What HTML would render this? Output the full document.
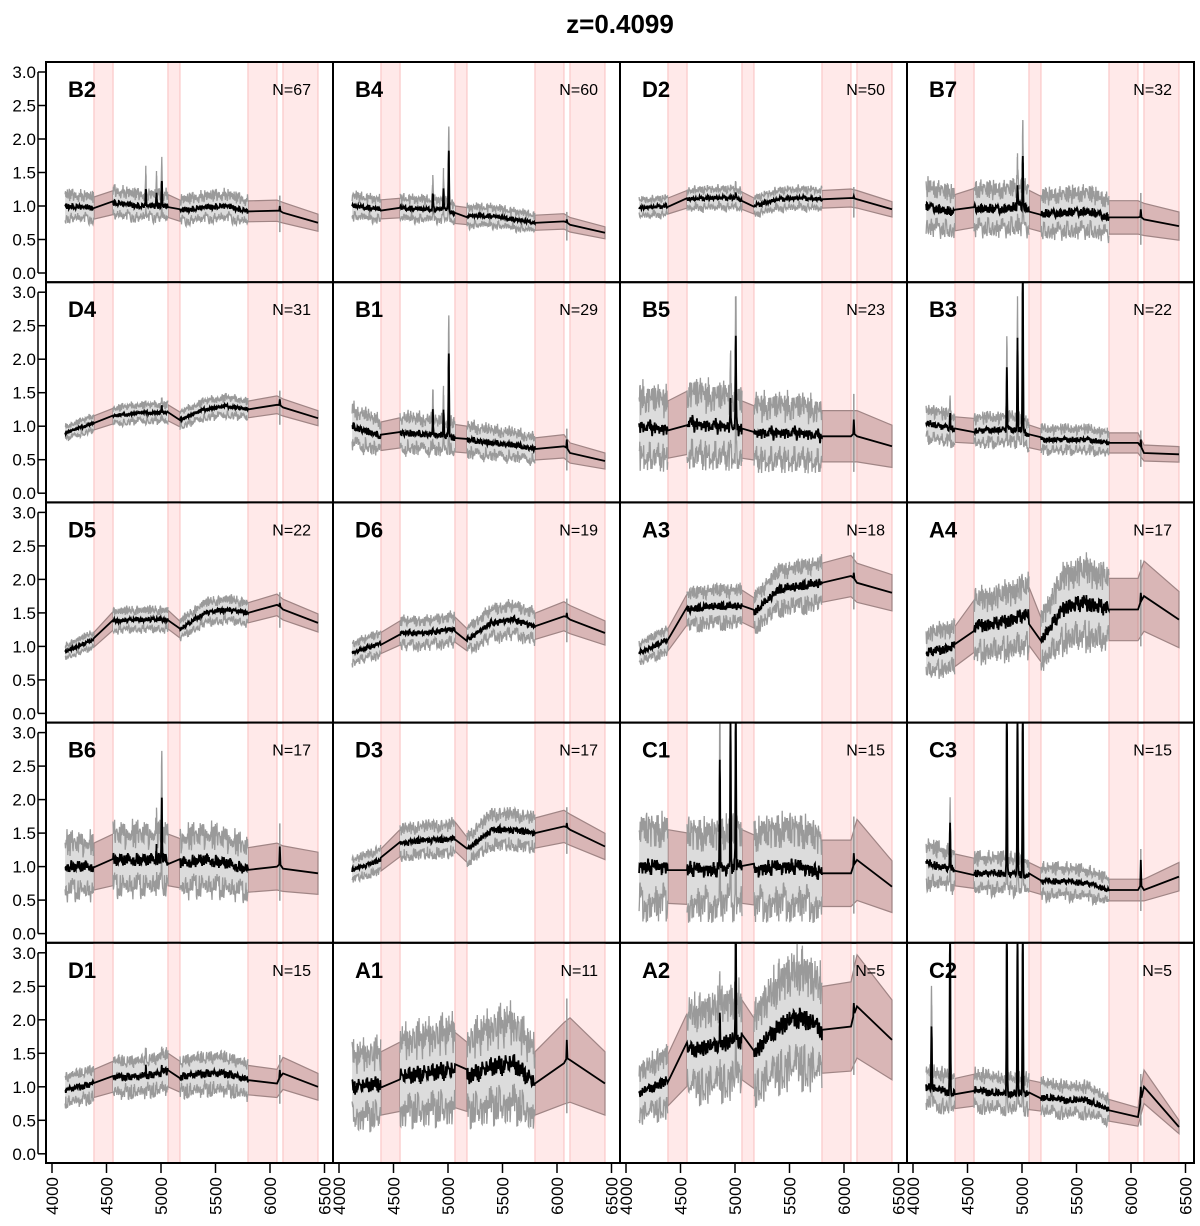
<!DOCTYPE html>
<html><head><meta charset="utf-8"><style>
body{margin:0;background:#fff;}
svg{display:block;font-family:"Liberation Sans",Arial,sans-serif;}
</style></head><body>
<svg id="chart" width="1200" height="1226" viewBox="0 0 1200 1226" xmlns="http://www.w3.org/2000/svg">
<text x="620" y="33" text-anchor="middle" font-size="26" font-weight="bold">z=0.4099</text>
<g id="panels"></g>
</svg>
<script>
const panelNames = ["B2","B4","D2","B7","D4","B1","B5","B3","D5","D6","A3","A4","B6","D3","C1","C3","D1","A1","A2","C2"];
const panelCounts = [67,60,50,32,31,29,23,22,22,19,18,17,17,17,15,15,15,11,5,5];
const knotWaves = [4120,4385,4560,4800,5000,5064,5174,5400,5600,5798,6064,6119,6440];
const meanB2=[1.0,0.97,1.05,1.0,1.0,1.0,0.93,0.98,1.0,0.92,0.93,0.9,0.75];
const meanB4=[1.0,0.95,0.97,0.95,0.95,0.87,0.85,0.85,0.8,0.75,0.77,0.72,0.6];
const meanD2=[0.97,1.0,1.1,1.12,1.12,1.08,1.0,1.1,1.12,1.1,1.12,1.1,0.95];
const meanB7=[1.0,0.9,0.97,0.95,1.0,0.95,0.88,0.9,0.92,0.83,0.83,0.8,0.7];
const meanD4=[0.9,1.05,1.15,1.2,1.2,1.2,1.1,1.25,1.3,1.25,1.32,1.28,1.12];
const meanB1=[1.0,0.85,0.9,0.88,0.85,0.82,0.8,0.75,0.72,0.66,0.7,0.6,0.48];
const meanB5=[1.0,0.95,1.05,1.0,1.0,0.95,0.9,0.9,0.9,0.85,0.85,0.85,0.7];
const meanB3=[1.05,0.95,0.93,0.95,0.95,0.85,0.8,0.8,0.8,0.75,0.75,0.6,0.58];
const meanD5=[0.92,1.1,1.38,1.4,1.4,1.4,1.25,1.5,1.55,1.5,1.62,1.55,1.35];
const meanD6=[0.9,1.05,1.2,1.2,1.25,1.25,1.1,1.35,1.4,1.3,1.45,1.4,1.2];
const meanA3=[0.9,1.1,1.55,1.6,1.6,1.6,1.5,1.85,1.9,1.95,2.05,1.95,1.8];
const meanA4=[0.9,1.0,1.3,1.35,1.45,1.45,1.1,1.6,1.65,1.55,1.55,1.75,1.4];
const meanB6=[1.0,1.0,1.1,1.1,1.1,1.1,1.05,1.1,1.05,0.95,1.0,0.97,0.9];
const meanD3=[0.95,1.1,1.35,1.4,1.4,1.45,1.25,1.55,1.55,1.5,1.6,1.55,1.3];
const meanC1=[1.0,1.0,0.97,0.95,1.0,1.0,0.95,1.0,1.0,0.9,0.9,1.1,0.7];
const meanC3=[1.05,0.95,0.9,0.9,0.88,0.85,0.78,0.78,0.75,0.65,0.65,0.65,0.85];
const meanD1=[0.95,1.05,1.15,1.15,1.2,1.25,1.15,1.2,1.2,1.1,1.05,1.2,1.0];
const meanA1=[1.0,1.05,1.15,1.2,1.25,1.25,1.15,1.3,1.35,1.05,1.35,1.4,1.05];
const meanA2=[0.9,1.1,1.55,1.6,1.7,1.7,1.5,1.9,2.05,1.85,1.9,2.2,1.7];
const meanC2=[1.0,0.9,0.95,0.9,0.9,0.88,0.85,0.8,0.8,0.65,0.55,1.0,0.4];
const panelMeans=[meanB2,meanB4,meanD2,meanB7,meanD4,meanB1,meanB5,meanB3,meanD5,meanD6,meanA3,meanA4,meanB6,meanD3,meanC1,meanC3,meanD1,meanA1,meanA2,meanC2];
const panelSpreads=[0.17,0.15,0.12,0.3,0.1,0.25,0.45,0.2,0.1,0.15,0.15,0.3,0.35,0.15,0.55,0.25,0.2,0.45,0.35,0.25];
const panelLines=[
 [[4861,1.25],[4959,1.2],[5007,1.4],[6090,1.0]],
 [[4861,1.2],[4959,1.25],[5007,1.8],[6090,0.8]],
 [[5007,1.2],[6090,1.15]],
 [[4959,1.3],[5007,1.75],[6090,0.95]],
 [[5007,1.3],[6090,1.4]],
 [[4861,1.2],[4959,1.25],[5007,2.1],[6090,0.8]],
 [[4959,1.4],[5007,2.3],[6090,1.1]],
 [[4340,1.2],[4861,1.85],[4959,2.3],[5007,3.5],[6090,0.8]],
 [[6090,1.65]],
 [[6090,1.5]],
 [[6090,2.1]],
 [[6090,1.8]],
 [[4959,1.3],[5007,2.0],[6090,1.3]],
 [[6090,1.65]],
 [[4861,2.5],[4959,3.2],[5007,3.5],[6090,1.2]],
 [[4340,1.6],[4861,3.5],[4959,3.5],[5007,3.5],[6090,1.1]],
 [[4861,1.3],[5007,1.3],[6090,1.25]],
 [[6090,1.7]],
 [[4861,2.0],[5007,3.5],[6090,2.25]],
 [[4170,1.95],[4340,3.5],[4861,3.5],[4959,3.5],[5007,3.5],[6090,1.0]]
];
const noiseTemplate=[0.3,-0.6,0.8,-0.2,-0.9,0.5,0.1,-0.4,0.9,-0.7,0.2,0.6,-0.3,-0.8,0.4,0.7,-0.5,0.0,0.85,-0.65,-0.1,0.45,-0.95,0.35,0.65,-0.25,-0.55,0.95,-0.15,0.25,-0.75,0.55,0.05,-0.45,0.75,-0.85,0.15,0.5,-0.35,-0.6,0.9,-0.05,0.4,-0.9,0.6,0.2,-0.7,0.3,-0.2,0.8,-0.5,-0.3,0.7,0.1,-0.8,0.45,-0.1,0.6,-0.4,0.35,-0.65];
const yTicks=[0,0.5,1,1.5,2,2.5,3];
const yTickLabels=["0.0","0.5","1.0","1.5","2.0","2.5","3.0"];
const xTicks=[4000,4500,5000,5500,6000,6500];
const bands=[[4385,4560],[5064,5174],[5798,6064],[6119,6440]];
const dataRegions=[[4120,4385],[4560,5064],[5174,5798]];

const NS="http://www.w3.org/2000/svg";
const root=document.getElementById('panels');
const colW=287, rowH=220.2, left0=46, top0=62;
function xs(c,w){return left0+c*colW+6+(w-4000)*54.5/500;}
function ys(r,v){v=Math.max(-0.2,Math.min(3.2,v));return top0+r*rowH+211-v*67;}
function mk(tag,attrs,parent){const e=document.createElementNS(NS,tag);for(const k in attrs)e.setAttribute(k,attrs[k]);parent.appendChild(e);return e;}
function interp(m,w){for(let i=0;i<knotWaves.length-1;i++){if(w<=knotWaves[i+1]){const t=(w-knotWaves[i])/(knotWaves[i+1]-knotWaves[i]);return m[i]+(m[i+1]-m[i])*Math.max(0,t);}}return m[m.length-1];}
function lineBump(lines,w,base){let b=0;for(const L of lines){const d=w-L[0];b+=(L[1]-base)*Math.exp(-d*d/(2*3*3));}return b;}
function pts(arr){return arr.map(p=>p[0].toFixed(1)+','+p[1].toFixed(1)).join(' ');}
function nz(i,a,b){return noiseTemplate[((i*a+b)%61+61)%61]*0.65+noiseTemplate[((i*(a+6)+b*3+5)%61+61)%61]*0.45;}

for(let p=0;p<20;p++){
  const r=Math.floor(p/4), c=p%4;
  const m=panelMeans[p], s=panelSpreads[p], lines=panelLines[p];
  const g=mk('g',{},root);
  
  
  const px=left0+c*colW, py=top0+r*rowH;
  const cp=mk('clipPath',{id:'cp'+p},g);
  mk('rect',{x:px,y:py,width:colW,height:rowH},cp);
  const inner=mk('g',{'clip-path':'url(#cp'+p+')'},g);
  for(const b of bands){
    const br=mk('rect',{x:xs(c,b[0]),y:py,width:xs(c,b[1])-xs(c,b[0]),height:rowH,fill:'#ffe9e9',stroke:'#fbc8c8','stroke-width':1.2},inner);
    
    
  }
  const gaps=[[4385,4560],[5064,5174],[5798,6440]];
  for(const gp of gaps){
    const ws=[];for(const k of [gp[0],...knotWaves.filter(k=>k>gp[0]&&k<gp[1]),gp[1]])ws.push(k);
    const up=ws.map(w=>[xs(c,w),ys(r,interp(m,w)*(1+s))]);
    const lo=ws.map(w=>[xs(c,w),ys(r,interp(m,w)*(1-s))]).reverse();
    const env=mk('polygon',{points:pts(up.concat(lo)),fill:'rgba(140,80,80,0.33)',stroke:'#a08585','stroke-width':1.2},inner);
    
    
  }
  const meanPts=[];
  let ni=p*17;
  for(let di=0;di<dataRegions.length;di++){
    const dr=dataRegions[di];
    const ws=[];
    for(let w=dr[0];w<=dr[1];w+=3.5)ws.push(w);
    for(const L of lines){if(L[0]>dr[0]&&L[0]<dr[1]){ws.push(L[0]-2,L[0],L[0]+2);}}
    ws.sort((a,b)=>a-b);
    const up=[],lo=[];
    for(const w of ws){
      const base=interp(m,w);
      const n1=nz(ni,7,p), n2=nz(ni,11,p*2+3), n3=nz(ni,13,p*5+9); ni++;
      const bump=lineBump(lines,w,base);
      const mv=base+n1*s*base*0.28+bump;
      up.push([xs(c,w),ys(r,base*(1+s)+n2*s*base*0.6+bump*1.3)]);
      lo.push([xs(c,w),ys(r,base*(1-s)+n3*s*base*0.6+bump*0.5)]);
      meanPts.push([xs(c,w),ys(r,mv)]);
    }
    const fillPoly=mk('polygon',{points:pts(up.concat(lo.slice().reverse())),fill:'#dcdcdc',stroke:'none'},inner);
    
    
    const u=mk('polyline',{points:pts(up),fill:'none',stroke:'#9a9a9a','stroke-width':1.3},inner);
    
    
    const l=mk('polyline',{points:pts(lo),fill:'none',stroke:'#9a9a9a','stroke-width':1.3},inner);
    
    
  }
  const tailW=[5798,6064,6084,6090,6096,6119,6440];
  for(const w of tailW){const base=interp(m,w);meanPts.push([xs(c,w),ys(r,base+lineBump(lines.filter(L=>L[0]>6000),w,base))]);}
  const sp=lines.find(L=>L[0]===6090);
  if(sp){const base=interp(m,6090);const gs=mk('line',{x1:xs(c,6090),x2:xs(c,6090),y1:ys(r,base*(1-s)-0.15),y2:ys(r,sp[1]+s*base),stroke:'#9a9a9a','stroke-width':1.5},inner);
    
    }
  const ml=mk('polyline',{points:pts(meanPts),fill:'none',stroke:'#000','stroke-width':1.8},inner);
  
  
  const fr=mk('rect',{x:px,y:py,width:colW,height:rowH,fill:'none',stroke:'#000','stroke-width':2},g);
  
  
  const t=mk('text',{x:px+22,y:py+35,'font-size':22,'font-weight':'bold'},g);
  t.textContent=panelNames[p];
  
  
  const nt=mk('text',{x:px+colW-22,y:py+33,'font-size':16,'text-anchor':'end'},g);
  nt.textContent='N='+panelCounts[p];
  
  
}
for(let r=0;r<5;r++){
  const ax=mk('g',{},root);
  
  
  mk('line',{x1:38,x2:38,y1:ys(r,3),y2:ys(r,0),stroke:'#000','stroke-width':1.5},ax);
  yTicks.forEach((v,i)=>{
    mk('line',{x1:38,x2:46,y1:ys(r,v),y2:ys(r,v),stroke:'#000','stroke-width':1.5},ax);
    const tl=mk('text',{x:36,y:ys(r,v)+6,'font-size':17,'text-anchor':'end'},ax);
    tl.textContent=yTickLabels[i];
    
    
  });
}
for(let c=0;c<4;c++){
  const ax=mk('g',{},root);
  
  
  const yb=top0+5*rowH;
  xTicks.forEach(v=>{
    const x=xs(c,v);
    mk('line',{x1:x,x2:x,y1:yb,y2:yb+10,stroke:'#000','stroke-width':1.5},ax);
    const tl=mk('text',{x:0,y:0,'font-size':17,'text-anchor':'end',transform:'translate('+(x+6)+','+(yb+14)+') rotate(-90)'},ax);
    tl.textContent=String(v);
    
    
  });
}
</script>
</body></html>
